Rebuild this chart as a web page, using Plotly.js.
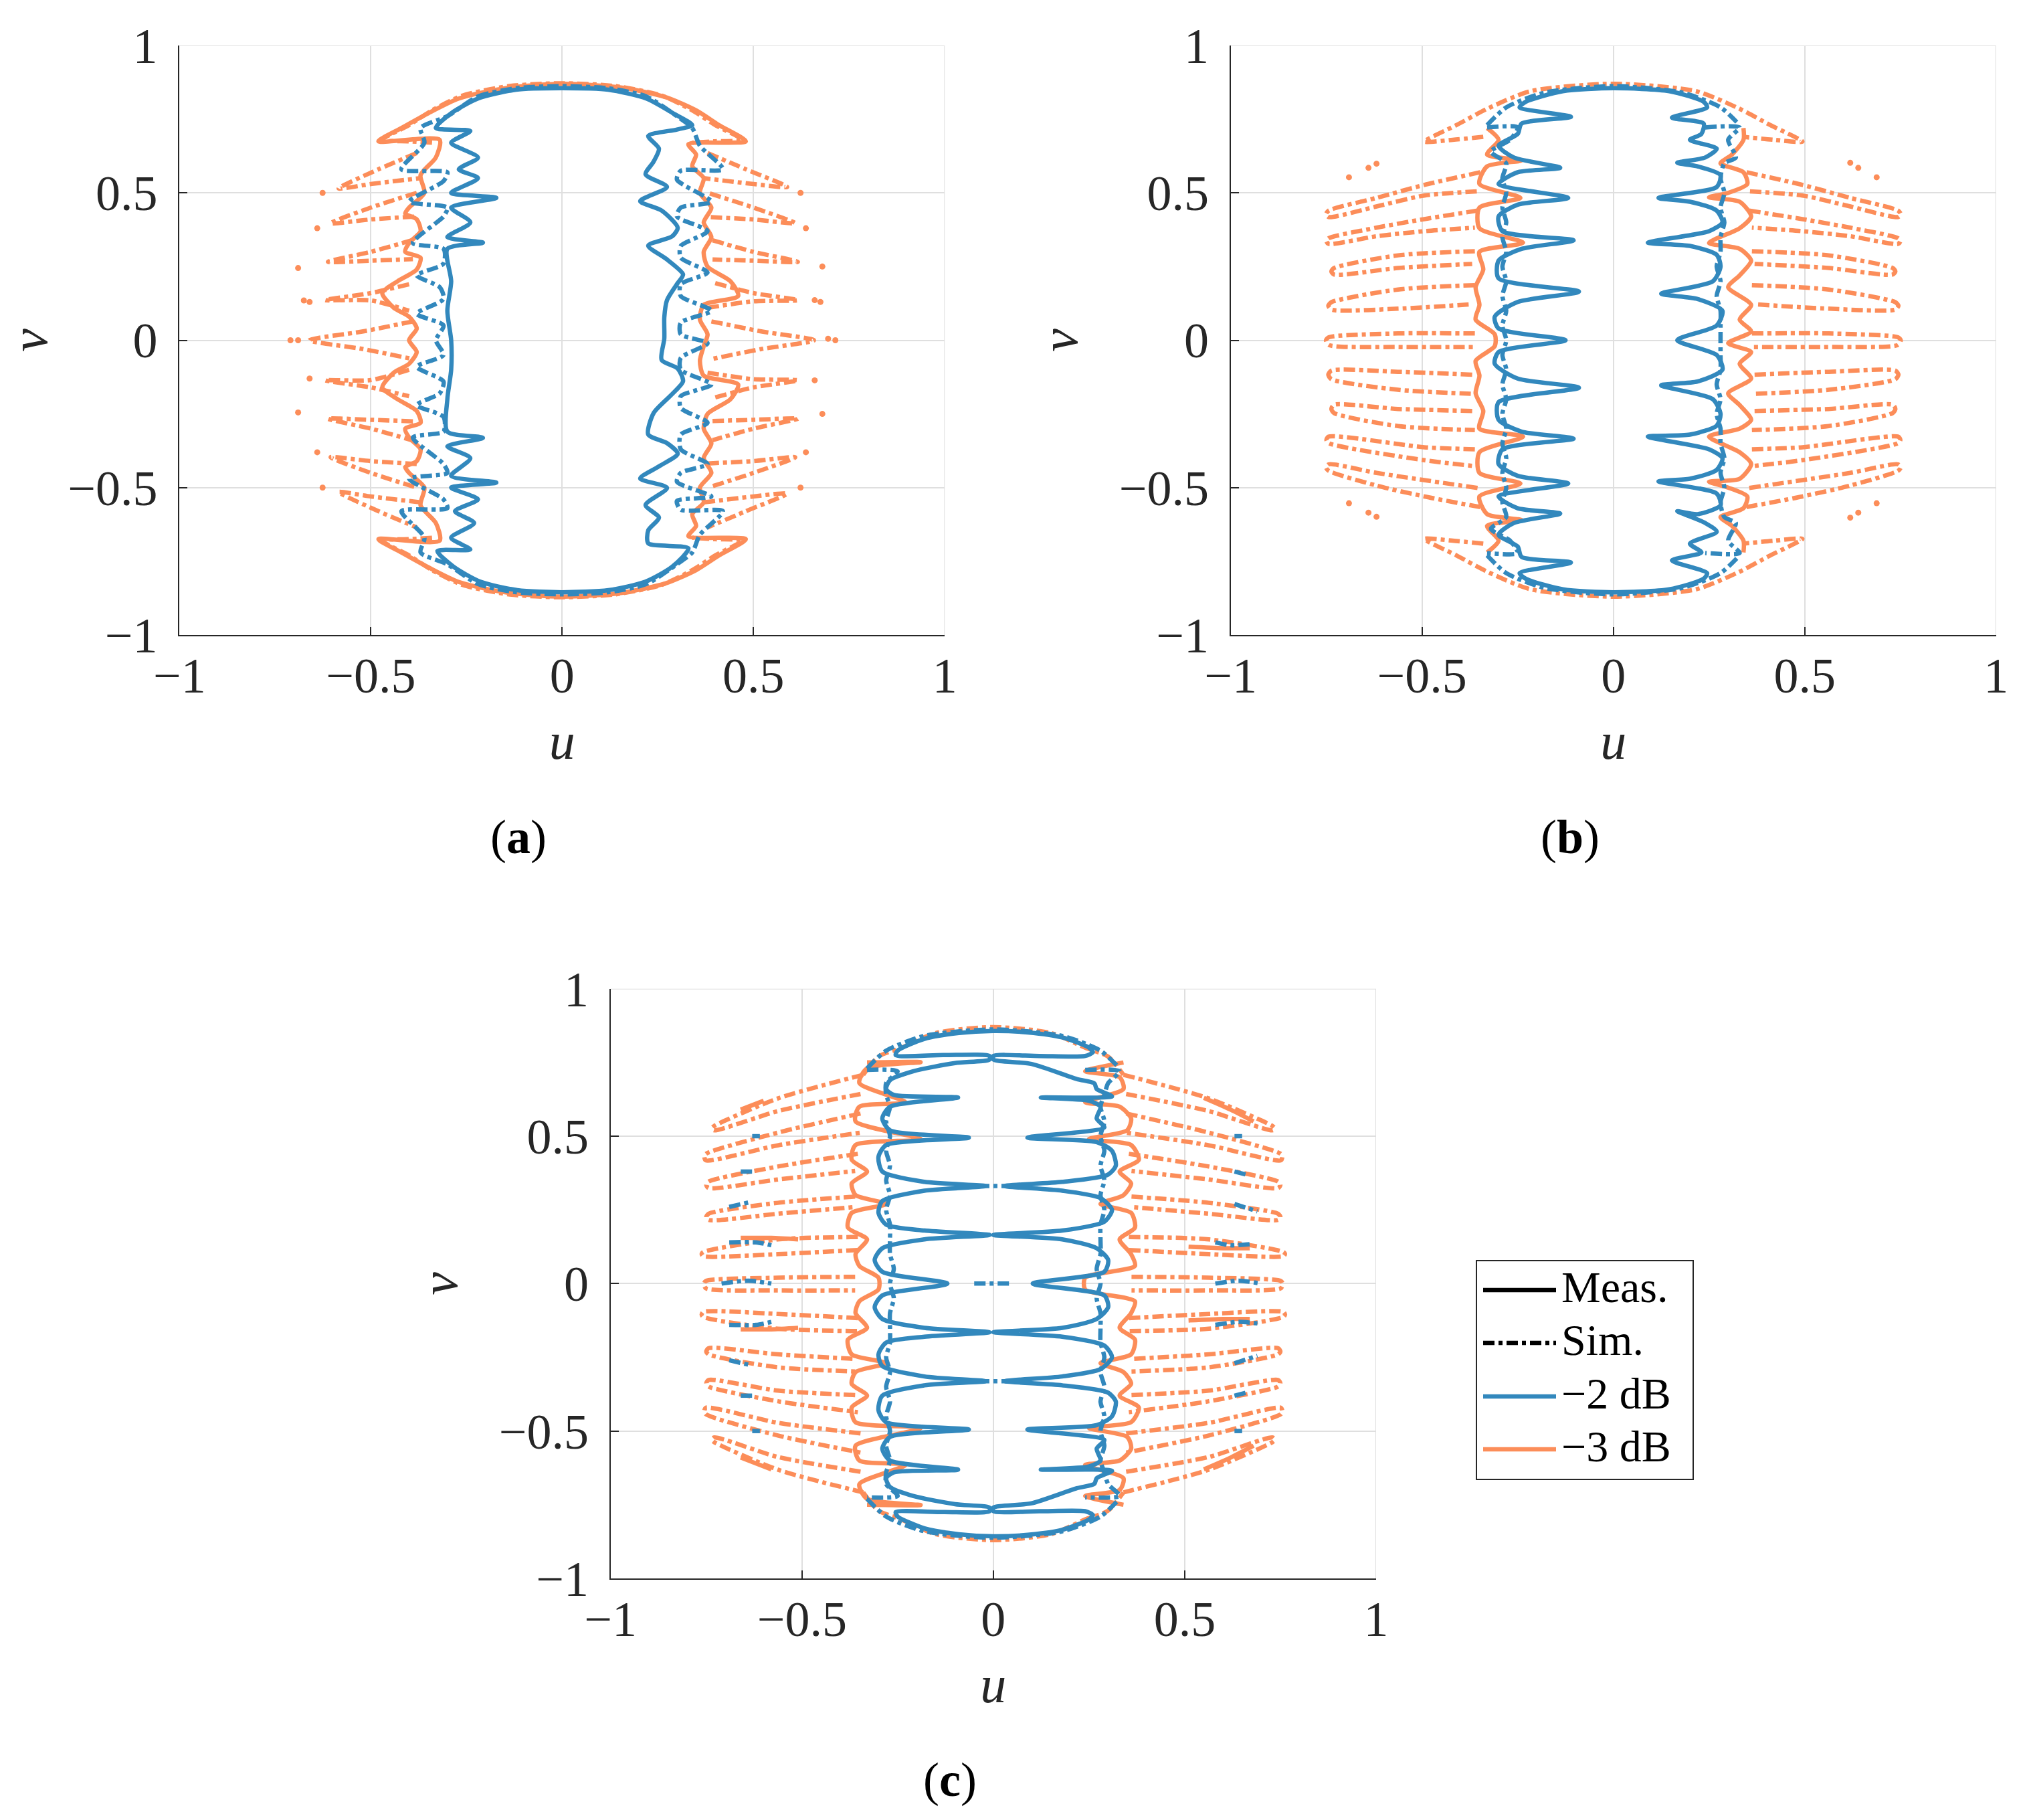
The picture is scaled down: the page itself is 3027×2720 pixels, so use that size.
<!DOCTYPE html>
<html>
<head>
<meta charset="utf-8">
<script src="https://cdn.plot.ly/plotly-3.0.1.min.js"></script>
<style>
  html, body { margin: 0; padding: 0; background: #fff; }
  #graph { width: 3027px; height: 2720px; }
</style>
</head>
<body>
<div id="graph"></div>
<script>
// axis ticks
var tickVals = [-1, -0.5, 0, 0.5, 1];
var tickText = ['\u22121', '\u22120.5', '0', '0.5', '1'];
var legendLabels = ['Meas.', 'Sim.', '\u22122 dB', '\u22123 dB'];
var panelLabels = ['(<b>a</b>)', '(<b>b</b>)', '(<b>c</b>)'];

// ---------- (a) contour points [u, v] ----------
var aBlueMeas = [[-0.33,0.72],[-0.29,0.77],[-0.22,0.82],[-0.12,0.85],[0,0.855],[0.12,0.85],[0.22,0.82],[0.29,0.77],[0.34,0.73],
  [0.30,0.715],[0.225,0.693],[0.253,0.65],[0.239,0.606],[0.218,0.563],[0.274,0.52],[0.204,0.472],[0.26,0.44],[0.302,0.382],[0.288,0.353],[0.225,0.321],[0.274,0.274],[0.316,0.223],[0.302,0.194],[0.274,0.136],[0.267,0.078],[0.267,0.006],[0.26,-0.067],[0.302,-0.096],[0.316,-0.139],[0.288,-0.182],[0.239,-0.247],[0.225,-0.32],[0.274,-0.349],[0.302,-0.385],[0.253,-0.428],[0.204,-0.469],[0.274,-0.501],[0.218,-0.559],[0.253,-0.602],[0.225,-0.645],[0.225,-0.689],[0.33,-0.706],
  [0.288,-0.768],[0.218,-0.819],[0.121,-0.848],[0,-0.855],[-0.117,-0.848],[-0.214,-0.819],[-0.284,-0.768],[-0.326,-0.715],
  [-0.24,-0.71],[-0.29,-0.67],[-0.23,-0.62],[-0.28,-0.58],[-0.22,-0.54],[-0.29,-0.50],[-0.172,-0.483],[-0.29,-0.46],[-0.24,-0.40],[-0.30,-0.36],[-0.207,-0.331],[-0.30,-0.31],[-0.30,-0.20],[-0.29,-0.10],[-0.29,0],[-0.30,0.10],[-0.29,0.20],[-0.30,0.31],[-0.207,0.331],[-0.30,0.35],[-0.24,0.40],[-0.29,0.45],[-0.172,0.483],[-0.29,0.50],[-0.22,0.55],[-0.27,0.58],[-0.22,0.62],[-0.29,0.67],[-0.24,0.71],[-0.33,0.72]];

var aBlueSim = [[-0.30,0.76],[-0.22,0.827],[-0.12,0.855],[0,0.862],[0.12,0.855],[0.22,0.827],[0.30,0.76],
  [0.34,0.72],[0.36,0.66],[0.42,0.58],[0.31,0.575],[0.30,0.545],[0.39,0.47],[0.31,0.45],[0.30,0.42],[0.38,0.37],[0.31,0.32],[0.31,0.28],[0.38,0.23],[0.31,0.19],[0.31,0.15],[0.39,0.10],[0.31,0.06],[0.31,0.02],[0.38,-0.01],[0.31,-0.06],[0.31,-0.10],[0.39,-0.15],[0.31,-0.19],[0.31,-0.23],[0.38,-0.28],[0.31,-0.32],[0.31,-0.37],[0.38,-0.42],[0.31,-0.45],[0.30,-0.48],[0.39,-0.53],[0.30,-0.545],[0.31,-0.575],[0.42,-0.58],[0.36,-0.66],[0.34,-0.72],[0.30,-0.76],
  [0.22,-0.827],[0.12,-0.855],[0,-0.862],[-0.12,-0.855],[-0.22,-0.827],[-0.30,-0.76],
  [-0.37,-0.72],[-0.36,-0.67],[-0.42,-0.58],[-0.30,-0.57],[-0.31,-0.54],[-0.40,-0.47],[-0.30,-0.45],[-0.31,-0.42],[-0.39,-0.33],[-0.31,-0.31],[-0.31,-0.26],[-0.38,-0.22],[-0.32,-0.18],[-0.31,-0.14],[-0.38,-0.09],[-0.31,-0.05],[-0.33,0.0],[-0.31,0.05],[-0.38,0.09],[-0.31,0.14],[-0.32,0.18],[-0.38,0.22],[-0.31,0.26],[-0.31,0.31],[-0.39,0.33],[-0.31,0.42],[-0.30,0.45],[-0.40,0.47],[-0.31,0.54],[-0.30,0.57],[-0.42,0.58],[-0.36,0.67],[-0.37,0.72],[-0.30,0.76]];

var aOrangeMeas = [[-0.48,0.675],[-0.42,0.72],[-0.35,0.77],[-0.27,0.82],[-0.15,0.855],[0,0.87],[0.15,0.858],[0.27,0.825],[0.35,0.78],[0.41,0.73],[0.48,0.675],
  [0.33,0.665],[0.35,0.63],[0.34,0.59],[0.37,0.55],[0.36,0.50],[0.39,0.45],[0.37,0.40],[0.39,0.35],[0.37,0.30],[0.38,0.25],[0.44,0.20],[0.46,0.15],[0.37,0.12],[0.36,0.07],[0.38,0.02],[0.37,-0.02],[0.36,-0.07],[0.37,-0.12],[0.46,-0.15],[0.44,-0.20],[0.38,-0.25],[0.37,-0.30],[0.39,-0.35],[0.37,-0.40],[0.39,-0.45],[0.36,-0.50],[0.37,-0.55],[0.34,-0.59],[0.35,-0.63],[0.33,-0.665],[0.48,-0.675],
  [0.41,-0.73],[0.35,-0.78],[0.27,-0.825],[0.15,-0.858],[0,-0.87],[-0.15,-0.855],[-0.27,-0.82],[-0.35,-0.77],[-0.42,-0.72],[-0.48,-0.675],
  [-0.32,-0.68],[-0.33,-0.62],[-0.37,-0.56],[-0.36,-0.50],[-0.40,-0.45],[-0.41,-0.43],[-0.38,-0.41],[-0.37,-0.37],[-0.40,-0.33],[-0.41,-0.30],[-0.37,-0.28],[-0.38,-0.24],[-0.43,-0.20],[-0.47,-0.16],[-0.44,-0.11],[-0.40,-0.08],[-0.38,-0.04],[-0.40,0.0],[-0.38,0.04],[-0.40,0.08],[-0.44,0.11],[-0.47,0.16],[-0.43,0.20],[-0.38,0.24],[-0.37,0.28],[-0.41,0.30],[-0.40,0.33],[-0.37,0.37],[-0.38,0.41],[-0.41,0.43],[-0.40,0.45],[-0.36,0.50],[-0.37,0.56],[-0.33,0.62],[-0.32,0.68],[-0.48,0.675]];

var aOrangeSim = [[-0.34,0.67],[-0.40,0.675],[-0.47,0.68],[-0.40,0.73],[-0.34,0.78],[-0.26,0.83],[-0.14,0.862],[0,0.872],[0.14,0.862],[0.26,0.83],[0.34,0.78],[0.40,0.73],[0.47,0.68],[0.40,0.675],[0.34,0.67],null,
  [-0.34,-0.67],[-0.40,-0.675],[-0.47,-0.68],[-0.40,-0.73],[-0.34,-0.78],[-0.26,-0.83],[-0.14,-0.862],[0,-0.872],[0.14,-0.862],[0.26,-0.83],[0.34,-0.78],[0.40,-0.73],[0.47,-0.68],[0.40,-0.675],[0.34,-0.67],null,
  [0.38,0.635],[0.48,0.58],[0.588,0.52],[0.50,0.53],[0.37,0.55],null,
  [0.386,0.498],[0.50,0.45],[0.609,0.397],[0.50,0.41],[0.38,0.418],null,
  [0.393,0.339],[0.50,0.30],[0.616,0.266],[0.50,0.27],[0.393,0.274],null,
  [0.40,0.194],[0.50,0.16],[0.616,0.136],[0.50,0.132],[0.38,0.11],null,
  [0.39,0.064],[0.52,0.03],[0.658,0.0],[0.52,-0.03],[0.39,-0.064],null,
  [0.38,-0.11],[0.50,-0.132],[0.616,-0.136],[0.50,-0.16],[0.40,-0.194],null,
  [0.393,-0.274],[0.50,-0.27],[0.616,-0.266],[0.50,-0.30],[0.393,-0.339],null,
  [0.38,-0.418],[0.50,-0.41],[0.609,-0.397],[0.50,-0.45],[0.386,-0.498],null,
  [0.37,-0.55],[0.50,-0.53],[0.588,-0.52],[0.48,-0.58],[0.38,-0.635],null,
  [-0.38,0.635],[-0.48,0.58],[-0.584,0.515],[-0.50,0.53],[-0.37,0.55],null,
  [-0.38,0.50],[-0.50,0.45],[-0.605,0.397],[-0.50,0.41],[-0.38,0.42],null,
  [-0.39,0.34],[-0.50,0.30],[-0.612,0.266],[-0.50,0.27],[-0.39,0.275],null,
  [-0.40,0.19],[-0.50,0.16],[-0.619,0.136],[-0.50,0.135],[-0.40,0.10],null,
  [-0.39,0.064],[-0.52,0.03],[-0.66,0.0],[-0.52,-0.03],[-0.39,-0.064],null,
  [-0.40,-0.10],[-0.50,-0.135],[-0.619,-0.136],[-0.50,-0.16],[-0.40,-0.19],null,
  [-0.39,-0.275],[-0.50,-0.27],[-0.612,-0.266],[-0.50,-0.30],[-0.39,-0.34],null,
  [-0.38,-0.42],[-0.50,-0.41],[-0.605,-0.397],[-0.50,-0.45],[-0.38,-0.50],null,
  [-0.37,-0.55],[-0.50,-0.53],[-0.584,-0.515],[-0.48,-0.58],[-0.38,-0.635]];

var aOrangeDots = [[0.623,0.50],[0.637,0.38],[0.68,0.25],[0.66,0.136],[0.675,0.13],[0.714,0.0],[0.695,0.005],[0.66,-0.136],[0.68,-0.25],[0.637,-0.38],[0.623,-0.50],
  [-0.626,0.50],[-0.64,0.38],[-0.69,0.245],[-0.66,0.13],[-0.675,0.135],[-0.71,0.0],[-0.69,0.0],[-0.66,-0.13],[-0.69,-0.245],[-0.64,-0.38],[-0.626,-0.50]];

// ---------- (b) contour points [u, v] ----------
var bBlueMeas = [[-0.229,0.809],[-0.132,0.845],[0,0.855],[0.146,0.845],[0.236,0.809],
  [0.245,0.79],[0.153,0.755],[0.236,0.735],[0.23,0.70],[0.20,0.68],[0.27,0.65],[0.24,0.62],[0.167,0.602],[0.22,0.59],[0.28,0.56],[0.27,0.52],[0.118,0.483],[0.20,0.47],[0.27,0.44],[0.285,0.40],[0.25,0.37],[0.09,0.331],[0.20,0.32],[0.27,0.29],[0.28,0.25],[0.26,0.20],[0.125,0.158],[0.22,0.14],[0.285,0.10],[0.27,0.05],[0.167,0.0],[0.27,-0.05],[0.285,-0.10],[0.22,-0.14],[0.125,-0.153],[0.26,-0.20],[0.28,-0.25],[0.27,-0.29],[0.20,-0.32],[0.09,-0.327],[0.25,-0.37],[0.285,-0.40],[0.27,-0.44],[0.20,-0.47],[0.118,-0.479],[0.27,-0.52],[0.28,-0.56],[0.22,-0.59],[0.167,-0.58],[0.24,-0.62],[0.27,-0.65],[0.20,-0.69],[0.23,-0.72],[0.153,-0.747],[0.245,-0.79],[0.236,-0.809],
  [0.146,-0.845],[0,-0.855],[-0.132,-0.845],[-0.229,-0.809],
  [-0.245,-0.79],[-0.111,-0.754],[-0.24,-0.735],[-0.25,-0.70],[-0.30,-0.66],[-0.26,-0.62],[-0.139,-0.588],[-0.25,-0.57],[-0.30,-0.53],[-0.118,-0.486],[-0.25,-0.46],[-0.30,-0.42],[-0.29,-0.37],[-0.104,-0.334],[-0.24,-0.31],[-0.30,-0.27],[-0.30,-0.21],[-0.09,-0.161],[-0.25,-0.13],[-0.31,-0.08],[-0.30,-0.04],[-0.125,0.0],[-0.30,0.04],[-0.31,0.08],[-0.25,0.13],[-0.09,0.165],[-0.30,0.21],[-0.30,0.27],[-0.24,0.31],[-0.104,0.339],[-0.29,0.37],[-0.30,0.42],[-0.25,0.46],[-0.118,0.483],[-0.30,0.53],[-0.25,0.57],[-0.139,0.585],[-0.26,0.62],[-0.30,0.66],[-0.25,0.70],[-0.24,0.735],[-0.111,0.758],[-0.245,0.79],[-0.229,0.809]];

var bBlueSim = [[-0.33,0.73],[-0.28,0.79],[-0.18,0.84],[0,0.862],[0.18,0.84],[0.28,0.79],[0.33,0.73],null,
  [-0.33,-0.73],[-0.28,-0.79],[-0.18,-0.84],[0,-0.862],[0.18,-0.84],[0.28,-0.79],[0.33,-0.73],null,
  [0.24,0.722],[0.33,0.722],[0.30,0.68],[0.32,0.62],[0.29,0.60],[0.28,0.55],[0.29,0.50],[0.28,0.45],[0.29,0.40],[0.28,0.35],[0.28,0.30],[0.27,0.25],[0.28,0.20],[0.27,0.15],[0.28,0.10],[0.28,0.05],[0.28,0.0],[0.28,-0.05],[0.28,-0.10],[0.27,-0.15],[0.28,-0.20],[0.27,-0.25],[0.28,-0.30],[0.28,-0.35],[0.29,-0.40],[0.28,-0.45],[0.29,-0.50],[0.28,-0.55],[0.29,-0.60],[0.32,-0.62],[0.30,-0.68],[0.33,-0.722],[0.24,-0.722],null,
  [-0.33,0.722],[-0.25,0.722],[-0.27,0.68],[-0.32,0.64],[-0.28,0.60],[-0.29,0.55],[-0.28,0.50],[-0.29,0.45],[-0.28,0.40],[-0.29,0.35],[-0.28,0.30],[-0.29,0.25],[-0.28,0.20],[-0.29,0.15],[-0.28,0.10],[-0.29,0.05],[-0.28,0.0],[-0.29,-0.05],[-0.28,-0.10],[-0.29,-0.15],[-0.28,-0.20],[-0.29,-0.25],[-0.28,-0.30],[-0.29,-0.35],[-0.28,-0.40],[-0.29,-0.45],[-0.28,-0.50],[-0.29,-0.55],[-0.28,-0.60],[-0.32,-0.64],[-0.27,-0.68],[-0.25,-0.722],[-0.33,-0.722]];

var bOrangeMeas = [[0.34,0.72],[0.34,0.68],[0.31,0.63],[0.28,0.60],[0.34,0.57],[0.35,0.53],[0.30,0.50],[0.25,0.485],[0.33,0.47],[0.36,0.42],[0.33,0.38],[0.25,0.33],[0.33,0.31],[0.36,0.27],[0.33,0.22],[0.30,0.18],[0.36,0.12],[0.33,0.07],[0.36,0.03],[0.30,-0.01],[0.36,-0.04],[0.33,-0.08],[0.36,-0.13],[0.30,-0.18],[0.33,-0.22],[0.36,-0.27],[0.33,-0.30],[0.25,-0.327],[0.33,-0.38],[0.36,-0.42],[0.33,-0.47],[0.25,-0.48],[0.30,-0.50],[0.35,-0.53],[0.34,-0.57],[0.28,-0.60],[0.31,-0.63],[0.34,-0.68],[0.34,-0.72],null,
  [-0.33,0.72],[-0.30,0.68],[-0.33,0.63],[-0.24,0.61],[-0.33,0.59],[-0.35,0.53],[-0.243,0.483],[-0.35,0.45],[-0.35,0.38],[-0.236,0.331],[-0.35,0.30],[-0.34,0.24],[-0.36,0.18],[-0.35,0.12],[-0.36,0.07],[-0.31,0.02],[-0.31,-0.02],[-0.36,-0.07],[-0.35,-0.12],[-0.36,-0.18],[-0.34,-0.24],[-0.35,-0.30],[-0.236,-0.327],[-0.35,-0.38],[-0.35,-0.45],[-0.243,-0.486],[-0.35,-0.53],[-0.33,-0.59],[-0.24,-0.61],[-0.33,-0.63],[-0.30,-0.68],[-0.33,-0.72]];

var bOrangeSim = [[-0.34,0.69],[-0.42,0.68],[-0.494,0.674],[-0.41,0.73],[-0.327,0.787],[-0.216,0.845],[0,0.87],[0.216,0.845],[0.327,0.787],[0.41,0.73],[0.494,0.674],[0.42,0.68],[0.34,0.69],null,
  [-0.34,-0.69],[-0.42,-0.68],[-0.494,-0.674],[-0.41,-0.73],[-0.327,-0.787],[-0.216,-0.845],[0,-0.87],[0.216,-0.845],[0.327,-0.787],[0.41,-0.73],[0.494,-0.674],[0.42,-0.68],[0.34,-0.69],null,
  [0.348,0.570],[0.494,0.527],[0.619,0.483],[0.744,0.44],[0.751,0.428],[0.744,0.418],[0.619,0.454],[0.494,0.491],[0.355,0.505],null,
  [0.355,0.44],[0.494,0.411],[0.619,0.382],[0.744,0.346],[0.75,0.336],[0.744,0.327],[0.619,0.353],[0.494,0.37],[0.362,0.382],null,
  [0.362,0.302],[0.563,0.288],[0.73,0.245],[0.737,0.234],[0.73,0.223],[0.563,0.245],[0.369,0.259],null,
  [0.362,0.187],[0.563,0.172],[0.737,0.129],[0.745,0.117],[0.737,0.104],[0.563,0.107],[0.369,0.122],null,
  [0.362,0.023],[0.563,0.023],[0.744,0.01],[0.751,0],[0.744,-0.016],[0.563,-0.023],[0.362,-0.023],null,
  [0.369,-0.117],[0.563,-0.107],[0.737,-0.103],[0.745,-0.117],[0.737,-0.132],[0.563,-0.168],[0.362,-0.182],null,
  [0.369,-0.24],[0.563,-0.233],[0.73,-0.219],[0.737,-0.233],[0.73,-0.247],[0.563,-0.291],[0.362,-0.305],null,
  [0.362,-0.37],[0.494,-0.363],[0.744,-0.327],[0.75,-0.338],[0.744,-0.349],[0.494,-0.407],[0.355,-0.428],null,
  [0.355,-0.501],[0.619,-0.45],[0.744,-0.421],[0.751,-0.432],[0.744,-0.443],[0.619,-0.493],[0.494,-0.53],[0.348,-0.566],null,
  [-0.348,0.570],[-0.494,0.527],[-0.619,0.483],[-0.744,0.44],[-0.751,0.428],[-0.744,0.418],[-0.619,0.454],[-0.494,0.491],[-0.355,0.505],null,
  [-0.355,0.44],[-0.494,0.411],[-0.619,0.382],[-0.744,0.346],[-0.75,0.336],[-0.744,0.327],[-0.619,0.353],[-0.494,0.37],[-0.362,0.382],null,
  [-0.362,0.302],[-0.563,0.288],[-0.73,0.245],[-0.737,0.234],[-0.73,0.223],[-0.563,0.245],[-0.369,0.259],null,
  [-0.362,0.187],[-0.563,0.172],[-0.737,0.129],[-0.745,0.117],[-0.737,0.104],[-0.563,0.107],[-0.369,0.122],null,
  [-0.362,0.023],[-0.563,0.023],[-0.744,0.01],[-0.751,0],[-0.744,-0.016],[-0.563,-0.023],[-0.362,-0.023],null,
  [-0.369,-0.117],[-0.563,-0.107],[-0.737,-0.103],[-0.745,-0.117],[-0.737,-0.132],[-0.563,-0.168],[-0.362,-0.182],null,
  [-0.369,-0.24],[-0.563,-0.233],[-0.73,-0.219],[-0.737,-0.233],[-0.73,-0.247],[-0.563,-0.291],[-0.362,-0.305],null,
  [-0.362,-0.37],[-0.494,-0.363],[-0.744,-0.327],[-0.75,-0.338],[-0.744,-0.349],[-0.494,-0.407],[-0.355,-0.428],null,
  [-0.355,-0.501],[-0.619,-0.45],[-0.744,-0.421],[-0.751,-0.432],[-0.744,-0.443],[-0.619,-0.493],[-0.494,-0.53],[-0.348,-0.566]];

var bOrangeDots = [[0.619,0.602],[0.64,0.585],[0.688,0.553],[0.688,-0.553],[0.64,-0.585],[0.619,-0.602],
  [-0.619,0.599],[-0.64,0.585],[-0.691,0.553],[-0.691,-0.553],[-0.64,-0.585],[-0.619,-0.599]];

// ---------- (c) contour points [u, v] ----------
var cBlueMeas = [[-0.25,0.79],[-0.18,0.83],[-0.09,0.85],[0,0.857],[0.09,0.852],[0.18,0.835],[0.25,0.80],
  [0.26,0.785],[0.24,0.772],[0.12,0.772],[0.0,0.772],[0.0,0.76],[0.10,0.745],[0.218,0.694],[0.264,0.679],[0.27,0.66],[0.31,0.635],[0.124,0.631],[0.25,0.62],[0.28,0.60],[0.27,0.56],[0.29,0.53],[0.089,0.495],[0.27,0.48],[0.31,0.45],[0.32,0.40],[0.30,0.37],[0.18,0.345],[0.03,0.331],[0.18,0.315],[0.28,0.29],[0.31,0.25],[0.29,0.21],[0.18,0.18],[0.0,0.165],[0.18,0.15],[0.27,0.12],[0.30,0.08],[0.29,0.04],[0.103,0.0],[0.29,-0.04],[0.30,-0.08],[0.27,-0.12],[0.18,-0.15],[0.0,-0.165],[0.18,-0.18],[0.29,-0.21],[0.31,-0.25],[0.28,-0.29],[0.18,-0.315],[0.03,-0.331],[0.18,-0.345],[0.30,-0.37],[0.32,-0.40],[0.31,-0.45],[0.27,-0.48],[0.089,-0.495],[0.29,-0.53],[0.27,-0.56],[0.28,-0.60],[0.25,-0.62],[0.124,-0.631],[0.31,-0.635],[0.27,-0.66],[0.264,-0.679],[0.218,-0.694],[0.10,-0.745],[0.0,-0.76],[0.0,-0.772],[0.12,-0.772],[0.24,-0.772],[0.26,-0.785],[0.25,-0.80],
  [0.18,-0.835],[0.09,-0.852],[0,-0.857],[-0.09,-0.85],[-0.18,-0.83],[-0.25,-0.79],
  [-0.255,-0.775],[-0.13,-0.775],[-0.01,-0.772],[-0.01,-0.76],[-0.10,-0.748],[-0.21,-0.72],[-0.27,-0.69],[-0.28,-0.66],[-0.26,-0.64],[-0.092,-0.631],[-0.27,-0.60],[-0.29,-0.56],[-0.27,-0.52],[-0.064,-0.495],[-0.28,-0.47],[-0.30,-0.43],[-0.29,-0.38],[-0.18,-0.345],[-0.02,-0.331],[-0.18,-0.315],[-0.29,-0.28],[-0.30,-0.24],[-0.28,-0.20],[-0.18,-0.18],[-0.01,-0.165],[-0.18,-0.15],[-0.29,-0.12],[-0.31,-0.08],[-0.29,-0.04],[-0.12,0.0],[-0.29,0.04],[-0.31,0.08],[-0.29,0.12],[-0.18,0.15],[-0.01,0.165],[-0.18,0.18],[-0.28,0.20],[-0.30,0.24],[-0.29,0.28],[-0.18,0.315],[-0.02,0.331],[-0.18,0.345],[-0.29,0.38],[-0.30,0.43],[-0.28,0.47],[-0.064,0.495],[-0.27,0.52],[-0.29,0.56],[-0.27,0.60],[-0.092,0.631],[-0.26,0.64],[-0.28,0.66],[-0.27,0.69],[-0.21,0.72],[-0.10,0.748],[-0.01,0.76],[-0.01,0.772],[-0.13,0.775],[-0.255,0.775],[-0.25,0.79]];

var cBlueSim = [[-0.33,0.73],[-0.28,0.79],[-0.18,0.84],[0,0.862],[0.18,0.84],[0.28,0.79],[0.33,0.73],null,
  [-0.33,-0.73],[-0.28,-0.79],[-0.18,-0.84],[0,-0.862],[0.18,-0.84],[0.28,-0.79],[0.33,-0.73],null,
  [0.24,0.725],[0.33,0.72],[0.30,0.68],[0.29,0.64],[0.28,0.60],[0.29,0.55],[0.28,0.50],[0.29,0.45],[0.28,0.40],[0.29,0.35],[0.28,0.30],[0.29,0.25],[0.28,0.20],[0.28,0.15],[0.28,0.10],[0.27,0.05],[0.28,0.0],[0.27,-0.05],[0.28,-0.10],[0.28,-0.15],[0.28,-0.20],[0.29,-0.25],[0.28,-0.30],[0.29,-0.35],[0.28,-0.40],[0.29,-0.45],[0.28,-0.50],[0.29,-0.55],[0.28,-0.60],[0.29,-0.64],[0.30,-0.68],[0.33,-0.72],[0.24,-0.725],null,
  [-0.33,0.725],[-0.25,0.72],[-0.28,0.68],[-0.28,0.64],[-0.27,0.60],[-0.28,0.55],[-0.27,0.50],[-0.28,0.45],[-0.27,0.40],[-0.28,0.35],[-0.27,0.30],[-0.28,0.25],[-0.27,0.20],[-0.27,0.15],[-0.27,0.10],[-0.26,0.05],[-0.27,0.0],[-0.26,-0.05],[-0.27,-0.10],[-0.27,-0.15],[-0.27,-0.20],[-0.28,-0.25],[-0.27,-0.30],[-0.28,-0.35],[-0.27,-0.40],[-0.28,-0.45],[-0.27,-0.50],[-0.28,-0.55],[-0.27,-0.60],[-0.28,-0.64],[-0.28,-0.68],[-0.25,-0.72],[-0.33,-0.725],null,
  [-0.04,0.331],[0.04,0.331],null,[-0.05,0.0],[0.05,0.0],null,[-0.04,-0.331],[0.04,-0.331],null,
  [0.58,0.14],[0.62,0.13],[0.68,0.135],null,[0.58,0.0],[0.64,0.01],[0.70,0.0],null,[0.58,-0.14],[0.64,-0.13],[0.69,-0.135],null,
  [0.63,0.27],[0.69,0.245],null,[0.63,0.38],[0.66,0.37],null,[0.63,0.50],[0.65,0.50],null,
  [0.63,-0.27],[0.69,-0.245],null,[0.63,-0.38],[0.66,-0.37],null,[0.63,-0.50],[0.65,-0.50],null,
  [-0.69,0.14],[-0.62,0.14],[-0.58,0.13],null,[-0.71,0.0],[-0.64,0.01],[-0.58,0.0],null,[-0.69,-0.14],[-0.62,-0.14],[-0.58,-0.13],null,
  [-0.69,0.26],[-0.64,0.275],null,[-0.66,0.38],[-0.63,0.38],null,[-0.63,0.50],[-0.61,0.50],null,
  [-0.69,-0.26],[-0.64,-0.275],null,[-0.66,-0.38],[-0.63,-0.38],null,[-0.63,-0.50],[-0.61,-0.50]];

var cOrangeMeas = [[0.34,0.75],[0.24,0.72],[0.33,0.70],[0.34,0.66],[0.24,0.615],[0.33,0.60],[0.36,0.56],[0.35,0.52],[0.25,0.49],[0.36,0.47],[0.38,0.42],[0.33,0.38],[0.36,0.34],[0.34,0.30],[0.28,0.27],[0.36,0.24],[0.37,0.19],[0.33,0.15],[0.36,0.10],[0.37,0.06],[0.24,0.02],[0.24,-0.02],[0.37,-0.06],[0.36,-0.10],[0.33,-0.15],[0.37,-0.19],[0.36,-0.24],[0.28,-0.27],[0.34,-0.30],[0.36,-0.34],[0.33,-0.38],[0.38,-0.42],[0.36,-0.47],[0.25,-0.49],[0.35,-0.52],[0.36,-0.56],[0.33,-0.60],[0.24,-0.615],[0.34,-0.66],[0.33,-0.70],[0.24,-0.72],[0.34,-0.75],null,
  [-0.33,0.75],[-0.19,0.751],[-0.33,0.73],[-0.35,0.68],[-0.23,0.615],[-0.35,0.60],[-0.36,0.55],[-0.19,0.49],[-0.36,0.47],[-0.37,0.42],[-0.33,0.38],[-0.37,0.34],[-0.36,0.30],[-0.28,0.27],[-0.37,0.24],[-0.38,0.19],[-0.33,0.15],[-0.36,0.10],[-0.35,0.06],[-0.30,0.02],[-0.30,-0.02],[-0.35,-0.06],[-0.36,-0.10],[-0.33,-0.15],[-0.38,-0.19],[-0.37,-0.24],[-0.28,-0.27],[-0.36,-0.30],[-0.37,-0.34],[-0.33,-0.38],[-0.37,-0.42],[-0.36,-0.47],[-0.19,-0.49],[-0.36,-0.55],[-0.35,-0.60],[-0.23,-0.615],[-0.35,-0.68],[-0.33,-0.73],[-0.19,-0.751],[-0.33,-0.75],null,
  [0.51,0.125],[0.60,0.12],[0.67,0.12],null,[0.51,-0.125],[0.60,-0.12],[0.67,-0.12],null,
  [-0.66,0.155],[-0.58,0.155],[-0.51,0.15],null,[-0.66,-0.155],[-0.58,-0.155],[-0.51,-0.15],null,
  [0.55,0.63],[0.62,0.59],[0.68,0.55],null,[0.55,-0.63],[0.62,-0.59],[0.68,-0.55],null,
  [-0.66,0.59],[-0.60,0.62],null,[-0.66,-0.59],[-0.58,-0.63]];

var cOrangeSim = [[-0.34,0.708],[-0.30,0.77],[-0.24,0.80],[-0.15,0.85],[0,0.87],[0.15,0.85],[0.24,0.80],[0.30,0.77],[0.34,0.708],null,
  [-0.34,-0.708],[-0.30,-0.77],[-0.24,-0.80],[-0.15,-0.85],[0,-0.87],[0.15,-0.85],[0.24,-0.80],[0.30,-0.77],[0.34,-0.708],null,
  [0.34,0.708],[0.563,0.628],[0.73,0.534],[0.735,0.527],[0.73,0.52],[0.563,0.585],[0.347,0.643],null,
  [0.347,0.577],[0.563,0.512],[0.751,0.44],[0.755,0.43],[0.751,0.418],[0.563,0.469],[0.347,0.512],null,
  [0.354,0.44],[0.563,0.397],[0.744,0.346],[0.75,0.335],[0.744,0.324],[0.563,0.353],[0.361,0.382],null,
  [0.361,0.295],[0.563,0.274],[0.744,0.237],[0.75,0.226],[0.744,0.216],[0.563,0.237],[0.368,0.259],null,
  [0.354,0.158],[0.563,0.15],[0.758,0.107],[0.762,0.10],[0.758,0.093],[0.563,0.10],[0.354,0.114],null,
  [0.361,0.023],[0.563,0.02],[0.751,0.009],[0.756,0],[0.751,-0.016],[0.563,-0.023],[0.361,-0.023],null,
  [0.354,-0.117],[0.563,-0.103],[0.758,-0.096],[0.762,-0.105],[0.758,-0.113],[0.563,-0.153],[0.354,-0.161],null,
  [0.368,-0.255],[0.563,-0.24],[0.744,-0.219],[0.75,-0.23],[0.744,-0.24],[0.563,-0.284],[0.361,-0.298],null,
  [0.361,-0.378],[0.563,-0.363],[0.744,-0.327],[0.75,-0.338],[0.744,-0.349],[0.563,-0.399],[0.354,-0.436],null,
  [0.347,-0.508],[0.563,-0.472],[0.751,-0.421],[0.755,-0.432],[0.751,-0.443],[0.563,-0.515],[0.347,-0.573],null,
  [0.347,-0.638],[0.563,-0.588],[0.73,-0.522],[0.735,-0.53],[0.73,-0.537],[0.563,-0.631],[0.34,-0.708],null,
  [-0.34,0.708],[-0.563,0.628],[-0.73,0.534],[-0.735,0.527],[-0.73,0.52],[-0.563,0.585],[-0.347,0.643],null,
  [-0.347,0.577],[-0.563,0.512],[-0.751,0.44],[-0.755,0.43],[-0.751,0.418],[-0.563,0.469],[-0.347,0.512],null,
  [-0.354,0.44],[-0.563,0.397],[-0.744,0.346],[-0.75,0.335],[-0.744,0.324],[-0.563,0.353],[-0.361,0.382],null,
  [-0.361,0.295],[-0.563,0.274],[-0.744,0.237],[-0.75,0.226],[-0.744,0.216],[-0.563,0.237],[-0.368,0.259],null,
  [-0.354,0.158],[-0.563,0.15],[-0.758,0.107],[-0.762,0.10],[-0.758,0.093],[-0.563,0.10],[-0.354,0.114],null,
  [-0.361,0.023],[-0.563,0.02],[-0.751,0.009],[-0.756,0],[-0.751,-0.016],[-0.563,-0.023],[-0.361,-0.023],null,
  [-0.354,-0.117],[-0.563,-0.103],[-0.758,-0.096],[-0.762,-0.105],[-0.758,-0.113],[-0.563,-0.153],[-0.354,-0.161],null,
  [-0.368,-0.255],[-0.563,-0.24],[-0.744,-0.219],[-0.75,-0.23],[-0.744,-0.24],[-0.563,-0.284],[-0.361,-0.298],null,
  [-0.361,-0.378],[-0.563,-0.363],[-0.744,-0.327],[-0.75,-0.338],[-0.744,-0.349],[-0.563,-0.399],[-0.354,-0.436],null,
  [-0.347,-0.508],[-0.563,-0.472],[-0.751,-0.421],[-0.755,-0.432],[-0.751,-0.443],[-0.563,-0.515],[-0.347,-0.573],null,
  [-0.347,-0.638],[-0.563,-0.588],[-0.73,-0.522],[-0.735,-0.53],[-0.73,-0.537],[-0.563,-0.631],[-0.34,-0.708]];

// ---------- drawing ----------
var blue = '#3288bd';
var orange = '#fc8d59';
var ink = '#262626';
var font = 'Liberation Serif, Times New Roman, serif';
var simDash = '17px,6px,6px,6px';
var lineW = 6.5;

function xs(pts) { return pts.map(p => p ? p[0] : null); }
function ys(pts) { return pts.map(p => p ? p[1] : null); }

function curve(pts, color, dash, ax) {
    return {
        x: xs(pts), y: ys(pts),
        xaxis: 'x' + ax, yaxis: 'y' + ax,
        type: 'scatter', mode: 'lines',
        line: {color: color, width: lineW, dash: dash, shape: 'spline', smoothing: 0.7},
        connectgaps: false, hoverinfo: 'skip', showlegend: false,
    };
}

function dots(pts, ax) {
    return {
        x: xs(pts), y: ys(pts),
        xaxis: 'x' + ax, yaxis: 'y' + ax,
        type: 'scatter', mode: 'markers',
        marker: {color: orange, size: 9},
        hoverinfo: 'skip', showlegend: false,
    };
}

var data = [
    curve(aOrangeSim, orange, simDash, ''), curve(aOrangeMeas, orange, 'solid', ''),
    curve(aBlueSim, blue, simDash, ''), curve(aBlueMeas, blue, 'solid', ''), dots(aOrangeDots, ''),
    curve(bOrangeSim, orange, simDash, '2'), curve(bOrangeMeas, orange, 'solid', '2'),
    curve(bBlueSim, blue, simDash, '2'), curve(bBlueMeas, blue, 'solid', '2'), dots(bOrangeDots, '2'),
    curve(cOrangeSim, orange, simDash, '3'), curve(cOrangeMeas, orange, 'solid', '3'),
    curve(cBlueSim, blue, simDash, '3'), curve(cBlueMeas, blue, 'solid', '3'),
];

function xAxis(domain, anchor) {
    return {
        domain: domain, anchor: anchor, range: [-1, 1],
        tickvals: tickVals, ticktext: tickText,
        ticks: 'inside', ticklen: 12, tickwidth: 2, tickcolor: ink,
        showline: true, linecolor: ink, linewidth: 2,
        showgrid: true, gridcolor: '#dfdfdf', gridwidth: 2, zeroline: false,
        tickfont: {family: font, size: 74, color: ink},
        ticklabelstandoff: -5,
        title: {text: '<i>u</i>', font: {family: font, size: 78, color: ink}, standoff: 30},
        fixedrange: true,
    };
}

function yAxis(domain, anchor) {
    return {
        domain: domain, anchor: anchor, range: [-1, 1],
        tickvals: tickVals, ticktext: tickText,
        ticks: 'inside', ticklen: 12, tickwidth: 2, tickcolor: ink,
        showline: true, linecolor: ink, linewidth: 2,
        showgrid: true, gridcolor: '#dfdfdf', gridwidth: 2, zeroline: false,
        tickfont: {family: font, size: 74, color: ink},
        ticklabelstandoff: 16,
        title: {text: '<i>v</i>', font: {family: font, size: 78, color: ink}, standoff: 36},
        fixedrange: true,
    };
}

// light frame on the top and right side of each panel
function frame(ax) {
    var st = {color: '#dfdfdf', width: 2};
    return [
        {type: 'line', xref: 'x' + ax, yref: 'y' + ax, x0: -1, x1: 1, y0: 1, y1: 1, line: st, layer: 'below'},
        {type: 'line', xref: 'x' + ax, yref: 'y' + ax, x0: 1, x1: 1, y0: -1, y1: 1, line: st, layer: 'below'},
    ];
}

// legend drawn by hand (long line samples, boxed)
var W = 3027, H = 2720;
var legendRows = [1928, 2007, 2087, 2166];
var legendStyles = [
    {color: 'black', dash: 'solid'}, {color: 'black', dash: simDash},
    {color: blue, dash: 'solid'}, {color: orange, dash: 'solid'},
];
var legendShapes = [{type: 'rect', xref: 'paper', yref: 'paper',
    x0: 2207 / W, x1: 2531 / W, y0: 1 - 2211 / H, y1: 1 - 1884 / H,
    line: {color: ink, width: 2}, fillcolor: 'white'}];
var legendText = [];
legendRows.forEach(function(r, i) {
    legendShapes.push({type: 'line', xref: 'paper', yref: 'paper',
        x0: 2217 / W, x1: 2326 / W, y0: 1 - r / H, y1: 1 - r / H,
        line: {color: legendStyles[i].color, width: lineW, dash: legendStyles[i].dash}});
    legendText.push({xref: 'paper', yref: 'paper', x: 2332 / W, y: 1 - (r - 5) / H,
        xanchor: 'left', yanchor: 'middle', showarrow: false, text: legendLabels[i],
        font: {family: font, size: 66, color: 'black'}});
});

var captions = [[775, 1251], [2347, 1251], [1420, 2660]].map(function(p, i) {
    return {xref: 'paper', yref: 'paper', x: p[0] / W, y: 1 - p[1] / H,
        xanchor: 'center', yanchor: 'middle', showarrow: false, text: panelLabels[i],
        font: {family: font, size: 72, color: 'black'}};
});

var layout = {
    width: W, height: H,
    margin: {l: 0, r: 0, t: 0, b: 0},
    paper_bgcolor: 'white', plot_bgcolor: 'white',
    showlegend: false,
    xaxis: xAxis([268.3 / W, 1412.3 / W], 'y'),
    yaxis: yAxis([1 - 949 / H, 1 - 68 / H], 'x'),
    xaxis2: xAxis([1839.7 / W, 2983.7 / W], 'y2'),
    yaxis2: yAxis([1 - 949 / H, 1 - 68 / H], 'x2'),
    xaxis3: xAxis([912.7 / W, 2057 / W], 'y3'),
    yaxis3: yAxis([1 - 2359 / H, 1 - 1477.7 / H], 'x3'),
    shapes: frame('').concat(frame('2'), frame('3'), legendShapes),
    annotations: captions.concat(legendText),
};

Plotly.newPlot(document.getElementById('graph'), data, layout, {displayModeBar: false, staticPlot: true});
</script>
</body>
</html>
